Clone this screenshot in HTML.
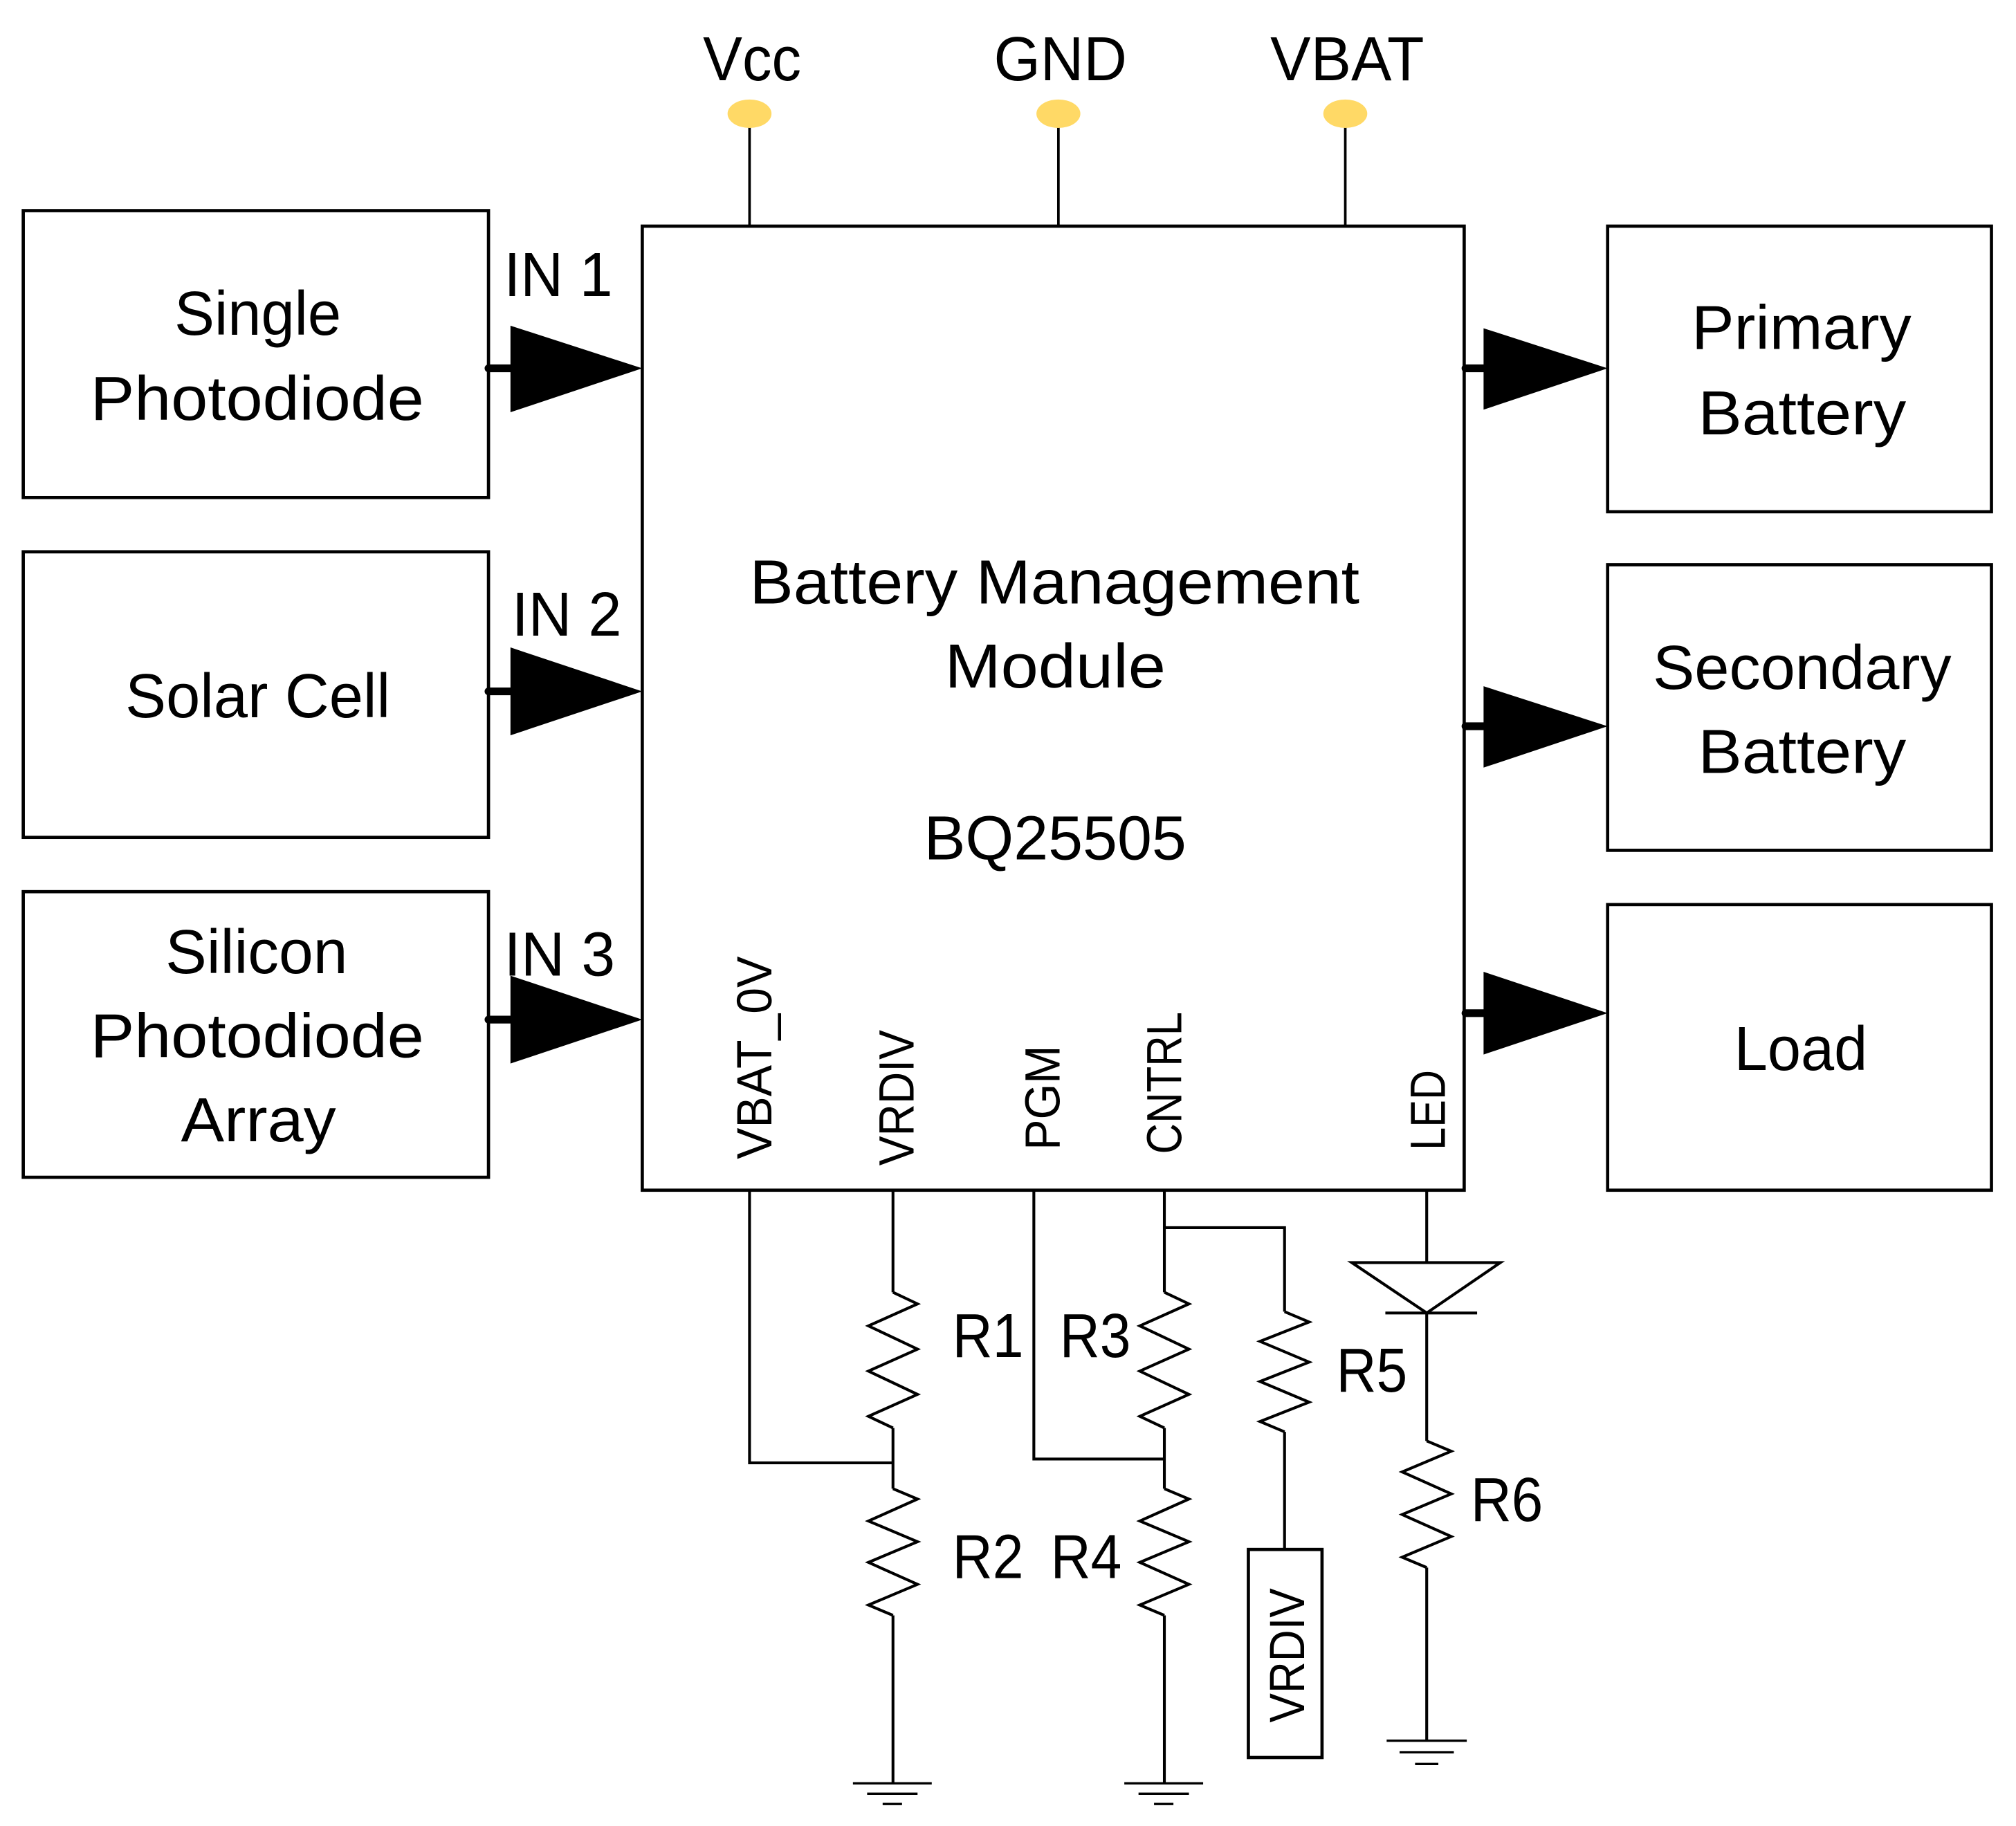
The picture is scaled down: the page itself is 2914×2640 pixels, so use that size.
<!DOCTYPE html>
<html><head><meta charset="utf-8"><style>
html,body{margin:0;padding:0;background:#fff;}
svg{display:block;}
text{font-family:"Liberation Sans",sans-serif;fill:#000;}
</style></head><body>
<svg width="2914" height="2640" viewBox="0 0 1560 1413" preserveAspectRatio="none" xmlns="http://www.w3.org/2000/svg">
<g fill="none" stroke="#000" stroke-width="2.5">
<rect x="18" y="163" width="360" height="222"/>
<rect x="18" y="427" width="360" height="221"/>
<rect x="18" y="690" width="360" height="221"/>
<rect x="1244" y="175" width="297" height="221"/>
<rect x="1244" y="437" width="297" height="221"/>
<rect x="1244" y="700" width="297" height="221"/>
<rect x="497" y="175" width="636" height="746"/>
</g>
<g stroke="#000" stroke-width="2">
<line x1="580" y1="98" x2="580" y2="175"/>
<line x1="819" y1="98" x2="819" y2="175"/>
<line x1="1041" y1="98" x2="1041" y2="175"/>
</g>
<g fill="#FFD966">
<ellipse cx="580" cy="88" rx="17" ry="11"/>
<ellipse cx="819" cy="88" rx="17" ry="11"/>
<ellipse cx="1041" cy="88" rx="17" ry="11"/>
</g>
<!-- arrows -->
<g stroke="#000" stroke-width="6" stroke-linecap="round">
<line x1="378" y1="285" x2="396" y2="285"/>
<line x1="378" y1="535" x2="396" y2="535"/>
<line x1="378" y1="789" x2="396" y2="789"/>
<line x1="1134" y1="285" x2="1149" y2="285"/>
<line x1="1134" y1="562" x2="1149" y2="562"/>
<line x1="1134" y1="784" x2="1149" y2="784"/>
</g>
<g fill="#000">
<polygon points="395,252 497,285 395,319"/>
<polygon points="395,501 497,535 395,569"/>
<polygon points="395,755 497,789 395,823"/>
<polygon points="1148,254 1244,285 1148,317"/>
<polygon points="1148,531 1244,562 1148,594"/>
<polygon points="1148,752 1244,784 1148,816"/>
</g>
<!-- bottom wiring -->
<g fill="none" stroke="#000" stroke-width="2.2">
<polyline points="580,921 580,1132 691,1132"/>
<line x1="691" y1="921" x2="691" y2="1000"/>
<polyline points="691,1000 710,1009 672,1026 710,1044 672,1061 710,1079 672,1096 691,1105"/>
<line x1="691" y1="1105" x2="691" y2="1152"/>
<polyline points="691,1152 710,1160 672,1177 710,1193 672,1209 710,1226 672,1242 691,1250"/>
<line x1="691" y1="1250" x2="691" y2="1380"/>
<polyline points="800,921 800,1129 901,1129"/>
<line x1="901" y1="921" x2="901" y2="1000"/>
<polyline points="901,1000 920,1009 882,1026 920,1044 882,1061 920,1079 882,1096 901,1105"/>
<line x1="901" y1="1105" x2="901" y2="1152"/>
<polyline points="901,1152 920,1160 882,1177 920,1193 882,1209 920,1226 882,1242 901,1250"/>
<line x1="901" y1="1250" x2="901" y2="1380"/>
<polyline points="901,950 994,950 994,1015"/>
<polyline points="994,1015 1013,1023 975,1038 1013,1054 975,1069 1013,1085 975,1100 994,1108"/>
<line x1="994" y1="1108" x2="994" y2="1199"/>
<rect x="966" y="1199" width="57" height="161" stroke-width="2.5"/>
<line x1="1104" y1="921" x2="1104" y2="977"/>
<polygon points="1046,977 1161,977 1104,1016"/>
<line x1="1072" y1="1016" x2="1143" y2="1016"/>
<line x1="1104" y1="1016" x2="1104" y2="1115"/>
<polyline points="1104,1115 1123,1123 1085,1139 1123,1156 1085,1172 1123,1189 1085,1205 1104,1213"/>
<line x1="1104" y1="1213" x2="1104" y2="1347"/>
</g>
<g stroke="#000" stroke-width="1.8">
<line x1="660" y1="1380" x2="721" y2="1380"/><line x1="671" y1="1388" x2="710" y2="1388"/><line x1="683" y1="1396" x2="698" y2="1396"/>
<line x1="870" y1="1380" x2="931" y2="1380"/><line x1="881" y1="1388" x2="920" y2="1388"/><line x1="893" y1="1396" x2="908" y2="1396"/>
<line x1="1073" y1="1347" x2="1135" y2="1347"/><line x1="1083" y1="1356" x2="1125" y2="1356"/><line x1="1095" y1="1365" x2="1113" y2="1365"/>
</g>
<!-- text -->
<g font-size="48" lengthAdjust="spacingAndGlyphs">
<text x="544" y="62" textLength="76" lengthAdjust="spacingAndGlyphs">Vcc</text>
<text x="769" y="62" textLength="103" lengthAdjust="spacingAndGlyphs">GND</text>
<text x="983" y="62" textLength="119" lengthAdjust="spacingAndGlyphs">VBAT</text>
<text x="390" y="229" textLength="84" lengthAdjust="spacingAndGlyphs">IN 1</text>
<text x="396" y="492" textLength="85" lengthAdjust="spacingAndGlyphs">IN 2</text>
<text x="390" y="755" textLength="86" lengthAdjust="spacingAndGlyphs">IN 3</text>
<text x="135" y="259" textLength="129" lengthAdjust="spacingAndGlyphs">Single</text>
<text x="70" y="325" textLength="258" lengthAdjust="spacingAndGlyphs">Photodiode</text>
<text x="97" y="555" textLength="205" lengthAdjust="spacingAndGlyphs">Solar Cell</text>
<text x="128" y="753" textLength="141" lengthAdjust="spacingAndGlyphs">Silicon</text>
<text x="70" y="818" textLength="258" lengthAdjust="spacingAndGlyphs">Photodiode</text>
<text x="140" y="883" textLength="120" lengthAdjust="spacingAndGlyphs">Array</text>
<text x="1309" y="270" textLength="170" lengthAdjust="spacingAndGlyphs">Primary</text>
<text x="1314" y="336" textLength="161" lengthAdjust="spacingAndGlyphs">Battery</text>
<text x="1279" y="533" textLength="231" lengthAdjust="spacingAndGlyphs">Secondary</text>
<text x="1314" y="598" textLength="161" lengthAdjust="spacingAndGlyphs">Battery</text>
<text x="1342" y="828" textLength="103" lengthAdjust="spacingAndGlyphs">Load</text>
<text x="580" y="467" textLength="472" lengthAdjust="spacingAndGlyphs">Battery Management</text>
<text x="731" y="532" textLength="171" lengthAdjust="spacingAndGlyphs">Module</text>
<text x="715" y="665" textLength="203" lengthAdjust="spacingAndGlyphs">BQ25505</text>
<text x="737" y="1050" textLength="55" lengthAdjust="spacingAndGlyphs">R1</text>
<text x="820" y="1050" textLength="55" lengthAdjust="spacingAndGlyphs">R3</text>
<text x="1034" y="1077" textLength="55" lengthAdjust="spacingAndGlyphs">R5</text>
<text x="1138" y="1177" textLength="56" lengthAdjust="spacingAndGlyphs">R6</text>
<text x="737" y="1221" textLength="55" lengthAdjust="spacingAndGlyphs">R2</text>
<text x="813" y="1221" textLength="55" lengthAdjust="spacingAndGlyphs">R4</text>
</g>
<g font-size="38">
<text transform="translate(597,897) rotate(-90)" textLength="157" lengthAdjust="spacingAndGlyphs">VBAT_0V</text>
<text transform="translate(707,902) rotate(-90)" textLength="105" lengthAdjust="spacingAndGlyphs">VRDIV</text>
<text transform="translate(820,890) rotate(-90)" textLength="81" lengthAdjust="spacingAndGlyphs">PGM</text>
<text transform="translate(914,893) rotate(-90)" textLength="110" lengthAdjust="spacingAndGlyphs">CNTRL</text>
<text transform="translate(1118,890) rotate(-90)" textLength="62" lengthAdjust="spacingAndGlyphs">LED</text>
<text transform="translate(1009,1333) rotate(-90)" textLength="104" lengthAdjust="spacingAndGlyphs">VRDIV</text>
</g>
</svg>
</body></html>
